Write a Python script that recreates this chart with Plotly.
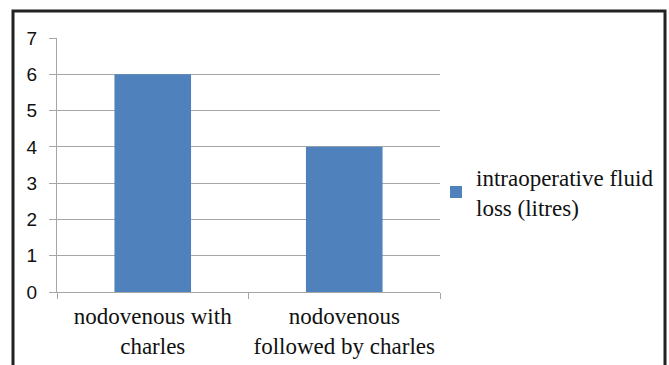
import plotly.graph_objects as go

categories = ["nodovenous with<br>charles", "nodovenous<br>followed by charles"]
values = [6, 4]
series_name = "intraoperative fluid<br>loss (litres)"
y_ticks = [0, 1, 2, 3, 4, 5, 6, 7]

W, H = 669, 365
x_left, x_right = 57, 440
y_top, y_bot = 38, 292

fig = go.Figure()
fig.add_trace(go.Bar(x=categories, y=values, name=series_name,
                     marker=dict(color="#4F81BD", line=dict(width=0)),
                     width=0.4, showlegend=True))

grid = "#A6A6A6"
fig.update_layout(
    width=W, height=H,
    margin=dict(l=0, r=0, t=0, b=0),
    paper_bgcolor="white", plot_bgcolor="white",
    xaxis=dict(domain=[x_left / W, x_right / W], showline=True, linecolor=grid, linewidth=1,
               ticks="outside", tickson="boundaries", ticklen=6, tickcolor=grid,
               showgrid=False, automargin=False, ticklabelstandoff=3,
               tickfont=dict(family="Liberation Serif", size=23, color="#111")),
    yaxis=dict(domain=[1 - y_bot / H, 1 - y_top / H], range=[0, 7], tickvals=y_ticks,
               showline=True, linecolor=grid, linewidth=1, automargin=False,
               ticks="outside", ticklen=7, tickcolor=grid, ticklabelstandoff=8,
               showgrid=True, gridcolor=grid, gridwidth=1, zeroline=False,
               tickfont=dict(family="Liberation Sans", size=19, color="#111")),
    legend=dict(x=436 / W, y=1 - 192 / H, xanchor="left", yanchor="middle",
                font=dict(family="Liberation Serif", size=23, color="#111"),
                bgcolor="rgba(0,0,0,0)", itemwidth=30, tracegroupgap=0),
    shapes=[dict(type="rect", xref="paper", yref="paper",
                 x0=13 / W, x1=665 / W, y0=-0.2, y1=1 - 11 / H,
                 line=dict(color="#222", width=3), fillcolor="rgba(0,0,0,0)", layer="below")],
    bargap=0.6,
)

fig.write_html("out.html")
